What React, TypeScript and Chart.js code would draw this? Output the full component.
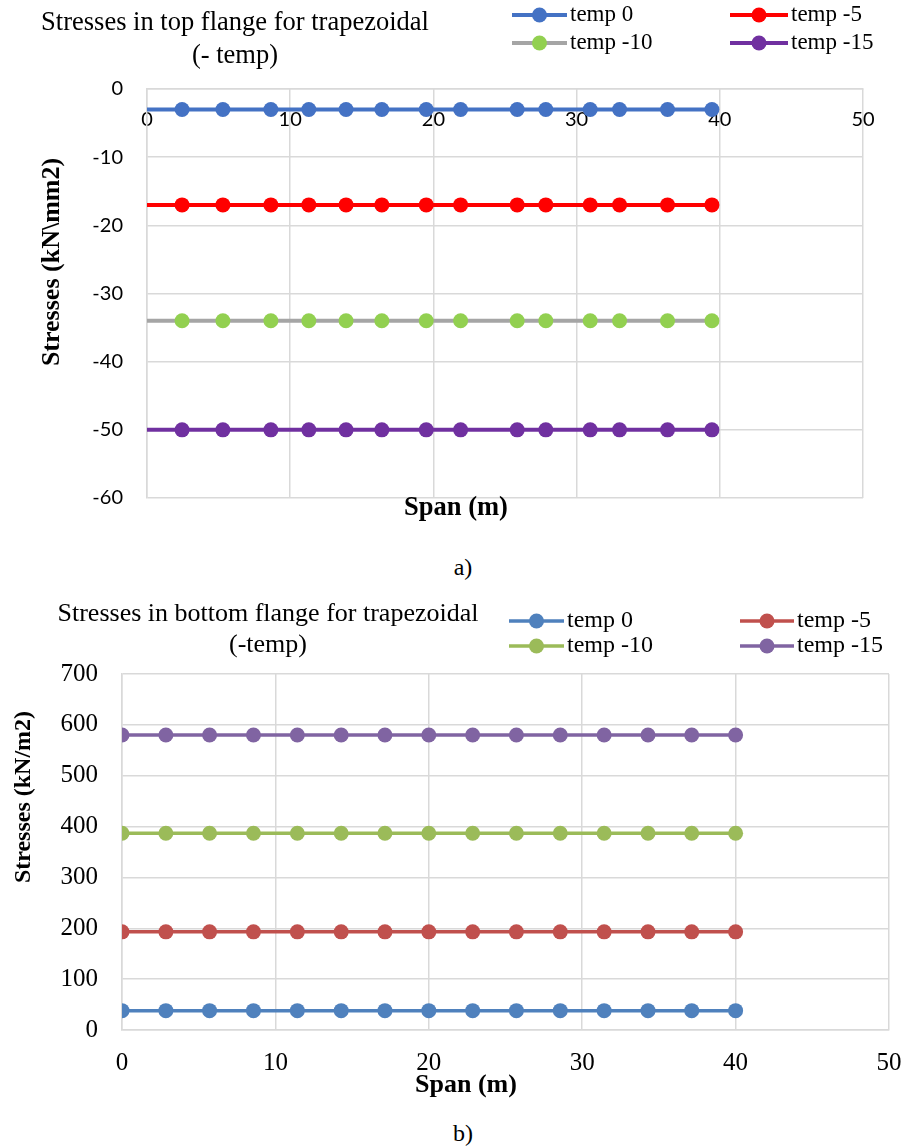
import React, { useEffect, useRef } from "react";
import { Chart, registerables } from "chart.js";

Chart.register(...registerables);

// ---------- Data: chart a (top flange) ----------
const spanTop = [0, 2.45, 5.3, 8.65, 11.3, 13.9, 16.4, 19.5, 21.9, 25.85, 27.85, 30.95, 33.0, 36.35, 39.45];
const topTemp0 = [-3, -3, -3, -3, -3, -3, -3, -3, -3, -3, -3, -3, -3, -3, -3];
const topTempM5 = [-17, -17, -17, -17, -17, -17, -17, -17, -17, -17, -17, -17, -17, -17, -17];
const topTempM10 = [-34, -34, -34, -34, -34, -34, -34, -34, -34, -34, -34, -34, -34, -34, -34];
const topTempM15 = [-50, -50, -50, -50, -50, -50, -50, -50, -50, -50, -50, -50, -50, -50, -50];
const topXTicks = [0, 10, 20, 30, 40, 50];
const topYTicks = [0, -10, -20, -30, -40, -50, -60];

// ---------- Data: chart b (bottom flange) ----------
const spanBottom = [0, 2.86, 5.71, 8.57, 11.43, 14.29, 17.14, 20, 22.86, 25.71, 28.57, 31.43, 34.29, 37.14, 40];
const bottomTemp0 = [38, 38, 38, 38, 38, 38, 38, 38, 38, 38, 38, 38, 38, 38, 38];
const bottomTempM5 = [193, 193, 193, 193, 193, 193, 193, 193, 193, 193, 193, 193, 193, 193, 193];
const bottomTempM10 = [387, 387, 387, 387, 387, 387, 387, 387, 387, 387, 387, 387, 387, 387, 387];
const bottomTempM15 = [580, 580, 580, 580, 580, 580, 580, 580, 580, 580, 580, 580, 580, 580, 580];
const bottomXTicks = [0, 10, 20, 30, 40, 50];
const bottomYTicks = [0, 100, 200, 300, 400, 500, 600, 700];

const seriesLabels = ["temp 0", "temp -5", "temp -10", "temp -15"];

const SERIF = "'Liberation Serif', 'Times New Roman', serif";
const GRID = "#d9d9d9";

const zip = (xs: number[], ys: number[]) => xs.map((x, i) => ({ x, y: ys[i] }));

// Custom plugin: titles, legend grid and axis titles at fixed spots
const decorPlugin = {
  id: "decor",
  afterDraw(chart: any, _args: any, opts: any) {
    const ctx = chart.ctx;
    ctx.save();
    ctx.fillStyle = "#000";
    ctx.textBaseline = "middle";
    // Title
    ctx.font = `${opts.titleSize}px ${SERIF}`;
    ctx.textAlign = "center";
    opts.titleLines.forEach((t: string, i: number) => {
      ctx.fillText(t, opts.titleX, opts.titleY[i]);
    });
    // Legend
    chart.data.datasets.forEach((ds: any, i: number) => {
      const col = opts.legendCols[i % 2];
      const y = opts.legendRows[Math.floor(i / 2)];
      ctx.strokeStyle = ds.borderColor;
      ctx.lineWidth = ds.borderWidth;
      ctx.beginPath();
      ctx.moveTo(col.x0, y);
      ctx.lineTo(col.x1, y);
      ctx.stroke();
      ctx.fillStyle = ds.pointBackgroundColor;
      ctx.beginPath();
      ctx.arc((col.x0 + col.x1) / 2, y, opts.legendMarker, 0, Math.PI * 2);
      ctx.fill();
      ctx.fillStyle = "#000";
      ctx.textAlign = "left";
      ctx.font = `${opts.legendSize}px ${SERIF}`;
      ctx.fillText(ds.label, col.tx, y);
    });
    // X title
    ctx.textAlign = "center";
    ctx.font = `bold ${opts.xTitleSize}px ${SERIF}`;
    ctx.fillText(opts.xTitle, opts.xTitleX, opts.xTitleY);
    // Y title
    ctx.save();
    ctx.translate(opts.yTitleX, opts.yTitleY);
    ctx.rotate(-Math.PI / 2);
    ctx.font = `bold ${opts.yTitleSize}px ${SERIF}`;
    ctx.fillText(opts.yTitle, 0, 0);
    ctx.restore();
    ctx.restore();
  },
};

function makeTopConfig(): any {
  const colors = [
    { line: "#4472C4", point: "#4472C4" },
    { line: "#FF0000", point: "#FF0000" },
    { line: "#A5A5A5", point: "#92D050" },
    { line: "#7030A0", point: "#7030A0" },
  ];
  const series = [topTemp0, topTempM5, topTempM10, topTempM15];
  return {
    type: "line",
    data: {
      datasets: series.map((s, i) => ({
        label: seriesLabels[i],
        data: zip(spanTop, s),
        borderColor: colors[i].line,
        backgroundColor: colors[i].point,
        pointBackgroundColor: colors[i].point,
        pointBorderColor: colors[i].point,
        borderWidth: 4,
        pointRadius: (c: any) => (c.dataIndex === 0 ? 0 : 7.5),
        pointBorderWidth: 0,
        tension: 0,
      })),
    },
    options: {
      responsive: false,
      animation: false,
      layout: { padding: { left: 0, right: 44, top: 89, bottom: 42 } },
      plugins: {
        legend: { display: false },
        title: { display: false },
        tooltip: { enabled: false },
        decor: {
          titleLines: ["Stresses in top flange for trapezoidal", "(- temp)"],
          titleX: 235,
          titleY: [23, 56],
          titleSize: 26.5,
          legendCols: [
            { x0: 512, x1: 567, tx: 570 },
            { x0: 730, x1: 788, tx: 791 },
          ],
          legendRows: [15, 43],
          legendMarker: 7.5,
          legendSize: 23,
          xTitle: "Span (m)",
          xTitleX: 456,
          xTitleY: 508,
          xTitleSize: 26.5,
          yTitle: "Stresses (kN\\mm2)",
          yTitleX: 52,
          yTitleY: 262,
          yTitleSize: 26,
        },
      },
      scales: {
        x: {
          type: "linear",
          position: { y: 0 },
          min: Math.min(...topXTicks),
          max: Math.max(...topXTicks),
          ticks: { stepSize: 10, padding: 19, color: "#000", font: { family: "Lato", size: 20 } },
          grid: { color: GRID, lineWidth: 1.5, drawTicks: false },
          border: { display: true, color: GRID, width: 1.5 },
        },
        y: {
          type: "linear",
          min: Math.min(...topYTicks),
          max: Math.max(...topYTicks),
          afterFit: (s: any) => {
            s.width = 147;
          },
          ticks: { stepSize: 10, padding: 24, color: "#000", font: { family: "Lato", size: 20 } },
          grid: { color: GRID, lineWidth: 1.5, drawTicks: false },
          border: { display: true, color: GRID, width: 1.5 },
        },
      },
    },
    plugins: [decorPlugin],
  };
}

function makeBottomConfig(): any {
  const colors = ["#4F81BD", "#C0504D", "#9BBB59", "#8064A2"];
  const series = [bottomTemp0, bottomTempM5, bottomTempM10, bottomTempM15];
  return {
    type: "line",
    data: {
      datasets: series.map((s, i) => ({
        label: seriesLabels[i],
        data: zip(spanBottom, s),
        borderColor: colors[i],
        backgroundColor: colors[i],
        pointBackgroundColor: colors[i],
        pointBorderColor: colors[i],
        borderWidth: 3.5,
        pointRadius: 7.5,
        pointBorderWidth: 0,
        tension: 0,
      })),
    },
    options: {
      responsive: false,
      animation: false,
      layout: { padding: { left: 0, right: 18, top: 84, bottom: 20 } },
      plugins: {
        legend: { display: false },
        title: { display: false },
        tooltip: { enabled: false },
        decor: {
          titleLines: ["Stresses in bottom flange for trapezoidal", "(-temp)"],
          titleX: 268,
          titleY: [24, 55],
          titleSize: 26,
          legendCols: [
            { x0: 509, x1: 564, tx: 567 },
            { x0: 740, x1: 794, tx: 797 },
          ],
          legendRows: [31, 56],
          legendMarker: 7.5,
          legendSize: 24,
          xTitle: "Span (m)",
          xTitleX: 466,
          xTitleY: 495,
          xTitleSize: 26,
          yTitle: "Stresses (kN/m2)",
          yTitleX: 24,
          yTitleY: 207,
          yTitleSize: 24,
        },
      },
      scales: {
        x: {
          type: "linear",
          position: "bottom",
          min: Math.min(...bottomXTicks),
          max: Math.max(...bottomXTicks),
          afterFit: (s: any) => {
            s.height = 50;
            s.paddingLeft = 0;
            s.paddingRight = 0;
          },
          ticks: { stepSize: 10, padding: 18, color: "#000", font: { family: SERIF, size: 25 } },
          grid: { color: GRID, lineWidth: 1.5, drawTicks: false },
          border: { display: true, color: GRID, width: 1.5 },
        },
        y: {
          type: "linear",
          min: Math.min(...bottomYTicks),
          max: Math.max(...bottomYTicks),
          afterFit: (s: any) => {
            s.width = 122;
          },
          ticks: { stepSize: 100, padding: 24, color: "#000", font: { family: SERIF, size: 25 } },
          grid: { color: GRID, lineWidth: 1.5, drawTicks: false },
          border: { display: true, color: GRID, width: 1.5 },
        },
      },
    },
    plugins: [decorPlugin],
  };
}

function ChartCanvas({ top, height, make }: { top: number; height: number; make: () => any }) {
  const ref = useRef<HTMLCanvasElement | null>(null);
  useEffect(() => {
    if (!ref.current) return;
    const chart = new Chart(ref.current, make());
    return () => chart.destroy();
  }, [make]);
  return (
    <canvas
      ref={ref}
      width={907}
      height={height}
      style={{ position: "absolute", left: 0, top, width: 907, height }}
    />
  );
}

const captionStyle = (top: number): React.CSSProperties => ({
  position: "absolute",
  left: 0,
  top,
  width: 926,
  textAlign: "center",
  fontFamily: SERIF,
  fontSize: 24,
  lineHeight: "28px",
  color: "#000",
});

export default function App() {
  return (
    <div style={{ position: "absolute", left: 0, top: 0, width: 907, height: 1148, background: "#fff" }}>
      <ChartCanvas top={0} height={540} make={makeTopConfig} />
      <div style={captionStyle(553)}>a)</div>
      <ChartCanvas top={590} height={510} make={makeBottomConfig} />
      <div style={captionStyle(1119)}>b)</div>
    </div>
  );
}
